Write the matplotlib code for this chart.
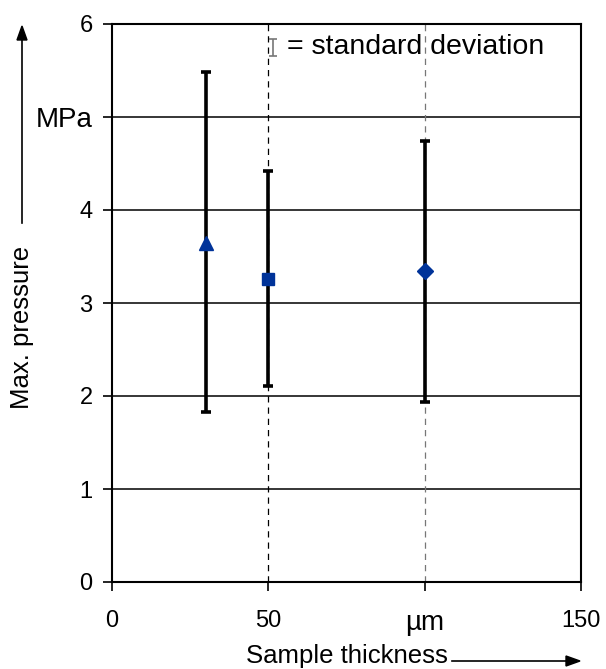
import numpy as np
import matplotlib.pyplot as plt

plt.rcParams['font.family'] = ['Liberation Sans', 'DejaVu Sans']

thickness = [30, 50, 100]
pressure = [3.65, 3.26, 3.34]
low = [1.83, 2.11, 1.94]
high = [5.48, 4.42, 4.74]
markers = ["^", "s", "D"]
msizes = [10, 9, 8.5]

xticks = [0, 50, 100, 150]
xlabels = ["0", "50", "µm", "150"]
yticks = [0, 1, 2, 3, 4, 5, 6]
ylabels = ["0", "1", "2", "3", "4", "MPa", "6"]

fig = plt.figure(figsize=(6.06, 6.69), dpi=100)
ax = fig.add_axes([112/606, 1-582/669, (581-112)/606, (582-24)/669])

for yy in [1, 2, 3, 4, 5]:
    ax.axhline(yy, color="black", lw=1.1, zorder=1)
ax.axvline(50, color="black", lw=0.9, ls=(0, (5, 4)), zorder=1)
ax.axvline(100, color="#777777", lw=0.9, ls=(0, (5, 4)), zorder=1)

for i in range(len(thickness)):
    err = [[pressure[i]-low[i]], [high[i]-pressure[i]]]
    ax.errorbar(thickness[i], pressure[i], yerr=err, fmt="none", ecolor="black",
                elinewidth=2.6, capsize=3.6, capthick=2.6, zorder=2)
    ax.plot(thickness[i], pressure[i], marker=markers[i], color="#003399",
            ms=msizes[i], ls="none", zorder=3)

ax.set_xlim(0, 150)
ax.set_ylim(0, 6)
ax.set_xticks(xticks)
ax.set_xticklabels(xlabels)
ax.set_yticks(yticks)
ax.set_yticklabels(ylabels)
ax.tick_params(axis="x", direction="out", length=6.5, width=1.2, labelsize=17, pad=14)
ax.tick_params(axis="y", direction="out", length=6.5, width=1.2, labelsize=17, pad=7.5)
ax.get_yticklabels()[5].set_fontsize(20)
ax.get_xticklabels()[2].set_fontsize(20)
for s in ax.spines.values():
    s.set_linewidth(1.5)

# legend-like note
ax.errorbar(51.5, 5.75, yerr=0.09, fmt="none", ecolor="#777777", elinewidth=1.2,
            capsize=3, capthick=1.2, zorder=4)
ax.text(56, 5.75, "= standard deviation", fontsize=20.5, va="center", ha="left")

# axis labels with arrows
fig.text(22/606, 1-327/669, "Max. pressure", rotation=90, fontsize=18.5,
         ha="center", va="center")
fig.add_artist(plt.Line2D([22/606, 22/606], [1-223/669, 1-40/669], color="black", lw=1.2))
fig.patches.append(plt.Polygon([[17/606, 1-40/669], [27/606, 1-40/669], [22/606, 1-26/669]],
                               closed=True, color="black", transform=fig.transFigure))
fig.text(347/606, 1-656/669, "Sample thickness", fontsize=18.5, ha="center", va="center")
fig.add_artist(plt.Line2D([452/606, 566/606], [1-661/669, 1-661/669], color="black", lw=1.2))
fig.patches.append(plt.Polygon([[566/606, 1-656/669], [566/606, 1-666/669], [580/606, 1-661/669]],
                               closed=True, color="black", transform=fig.transFigure))

fig.savefig("out.png", dpi=100)
